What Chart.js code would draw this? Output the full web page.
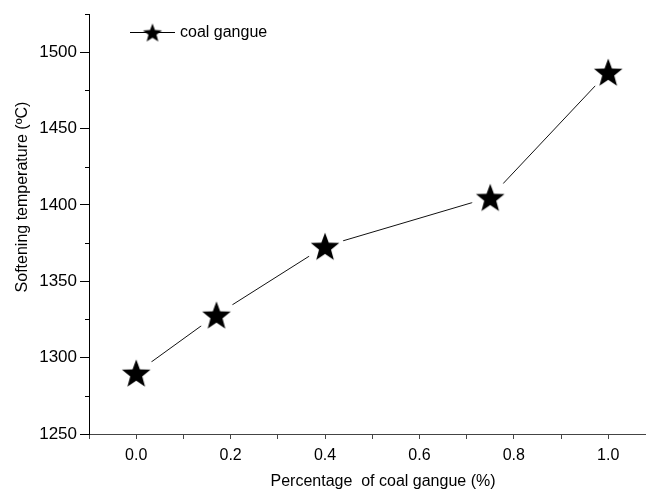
<!DOCTYPE html>
<html lang="en">
<head>
<meta charset="UTF-8">
<title>Softening temperature vs. coal gangue</title>
<style>
  html, body { margin: 0; padding: 0; background: #fff; overflow: hidden; }
  #wrap { width: 646px; height: 490px; position: relative; }
</style>
</head>
<body>
<div id="wrap"><canvas id="chart"></canvas></div>
<script src="https://cdn.jsdelivr.net/npm/chart.js"></script>
<script>
// data
const gangueShare = [0, 0.17, 0.4, 0.75, 1.0];
const softeningTemp = [1290, 1328, 1373, 1405, 1487];
const seriesName = 'coal gangue';

// axis ticks (minor + labelled)
const xTicks = [-0.1, 0, 0.1, 0.2, 0.3, 0.4, 0.5, 0.6, 0.7, 0.8, 0.9, 1.0];
const xLabels = [0, 0.2, 0.4, 0.6, 0.8, 1.0];
const yTicks = [1250, 1275, 1300, 1325, 1350, 1375, 1400, 1425, 1450, 1475, 1500, 1525];
const yLabels = [1250, 1300, 1350, 1400, 1450, 1500];

const xTitle = 'Percentage  of coal gangue (%)';
const yTitle = 'Softening temperature (\u00baC)';
const FONT = 'Liberation Sans, Arial, sans-serif';

const isLabel = (list, v) => list.some(l => Math.abs(l - v) < 1e-6);

// filled five-point star, optionally on a white disc so the line stops short of it
function makeStar(outerR, gapR) {
  const size = Math.ceil(Math.max(outerR, gapR) * 2 + 2);
  const c = document.createElement('canvas');
  c.width = size; c.height = size;
  const g = c.getContext('2d');
  const m = size / 2;
  if (gapR) {
    g.fillStyle = '#fff';
    g.beginPath(); g.arc(m, m, gapR, 0, Math.PI * 2); g.fill();
  }
  g.beginPath();
  for (let i = 0; i < 10; i++) {
    const r = i % 2 ? outerR * 0.42 : outerR;
    const a = -Math.PI / 2 + i * Math.PI / 5;
    g.lineTo(m + r * Math.cos(a), m + r * Math.sin(a) + outerR * 0.1);
  }
  g.closePath();
  g.fillStyle = '#000';
  g.fill();
  return c;
}

const bigStar = makeStar(15, 19);
const smallStar = makeStar(10, 0);

// legend inside the plot, axis titles and short minor y ticks
const extras = {
  id: 'extras',
  afterDraw(chart) {
    const ctx = chart.ctx;
    const ys = chart.scales.y;
    ctx.save();
    ctx.strokeStyle = '#000';
    ctx.lineWidth = 1;
    yTicks.forEach(v => {
      if (isLabel(yLabels, v)) return;
      const p = Math.round(ys.getPixelForValue(v)) + 0.5;
      ctx.beginPath(); ctx.moveTo(ys.right - 4, p); ctx.lineTo(ys.right, p); ctx.stroke();
    });

    // legend
    ctx.beginPath(); ctx.moveTo(130, 32.5); ctx.lineTo(175, 32.5); ctx.stroke();
    ctx.drawImage(smallStar, 152.5 - smallStar.width / 2, 32.5 - smallStar.height / 2);
    ctx.fillStyle = '#000';
    ctx.font = '16px ' + FONT;
    ctx.textBaseline = 'middle';
    ctx.textAlign = 'left';
    ctx.fillText(seriesName, 180, 33);

    // titles
    ctx.textAlign = 'center';
    ctx.textBaseline = 'alphabetic';
    ctx.fillText(xTitle, 383, 486);
    ctx.translate(27, 197);
    ctx.rotate(-Math.PI / 2);
    ctx.fillText(yTitle, 0, 0);
    ctx.restore();
  }
};

new Chart(document.getElementById('chart'), {
  type: 'scatter',
  data: {
    datasets: [{
      label: seriesName,
      data: gangueShare.map((x, i) => ({ x: x, y: softeningTemp[i] })),
      showLine: true,
      borderColor: '#111',
      borderWidth: 1,
      pointStyle: bigStar,
      pointRadius: 15,
      pointHoverRadius: 15
    }]
  },
  options: {
    responsive: true,
    maintainAspectRatio: false,
    animation: false,
    events: [],
    layout: { autoPadding: false, padding: { top: 14, right: 0, bottom: 0, left: 0 } },
    plugins: { legend: { display: false }, tooltip: { enabled: false } },
    scales: {
      x: {
        type: 'linear',
        min: -0.1,
        max: 1.08,
        afterBuildTicks: s => { s.ticks = xTicks.map(v => ({ value: v })); },
        afterFit: s => { s.height = 56; },
        border: { display: true, color: '#444', width: 1 },
        grid: { drawOnChartArea: false, drawTicks: true, tickLength: 5, color: '#444' },
        ticks: {
          color: '#000',
          padding: 7,
          maxRotation: 0,
          autoSkip: false,
          font: { family: FONT, size: 16 },
          callback: v => isLabel(xLabels, v) ? v.toFixed(1) : ''
        }
      },
      y: {
        type: 'linear',
        min: 1250,
        max: 1525,
        afterBuildTicks: s => { s.ticks = yTicks.map(v => ({ value: v })); },
        afterFit: s => { s.width = 89; },
        border: { display: true, color: '#000', width: 1 },
        grid: {
          drawOnChartArea: false, drawTicks: true, tickLength: 9,
          color: c => (c.tick && isLabel(yLabels, c.tick.value)) ? '#000' : 'rgba(0,0,0,0)'
        },
        ticks: {
          color: '#000',
          padding: 3,
          autoSkip: false,
          font: { family: FONT, size: 17 },
          callback: v => isLabel(yLabels, v) ? String(v) : ''
        }
      }
    }
  },
  plugins: [extras]
});
</script>
</body>
</html>
